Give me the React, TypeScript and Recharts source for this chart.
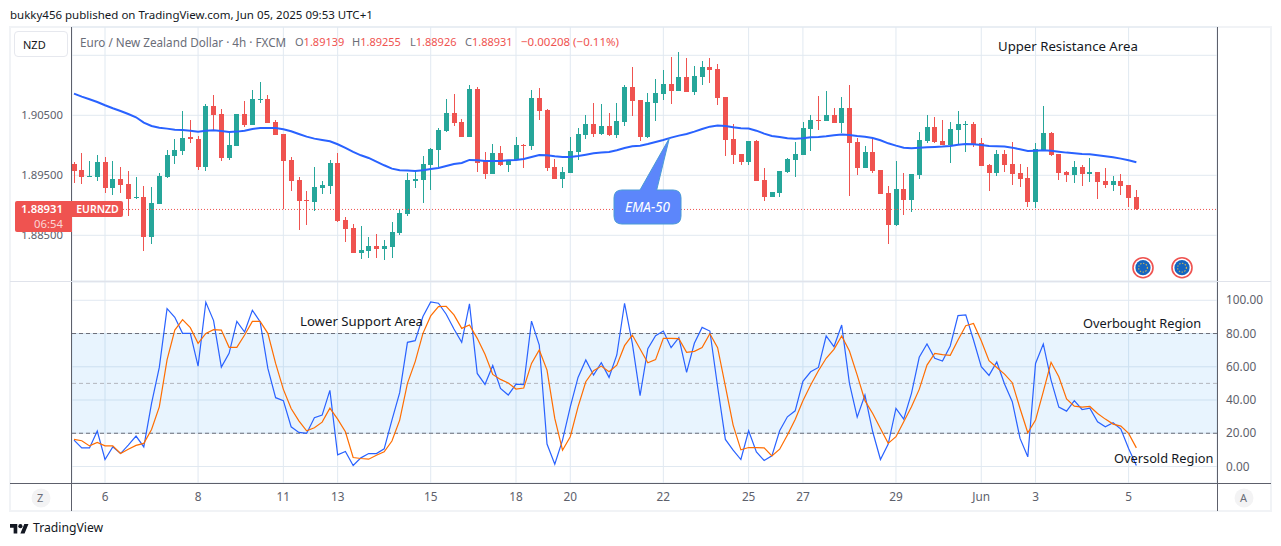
import { ComposedChart, Bar, Line, XAxis, YAxis, CartesianGrid, ReferenceLine, ReferenceArea } from 'recharts'

const opens = [1.89689,1.89589,1.89478,1.89478,1.89717,1.89294,1.89439,1.89355,1.89117,1.89139,1.88478,1.89028,1.89472,1.89822,1.89906,1.90133,1.90106,1.89639,1.90656,1.90522,1.89789,1.89989,1.90522,1.90339,1.90761,1.90772,1.90389,1.90189,1.89756,1.89422,1.89089,1.89055,1.89289,1.89322,1.89705,1.88755,1.88622,1.88205,1.88239,1.88322,1.88272,1.88305,1.88539,1.88855,1.89405,1.89422,1.89672,1.89922,1.90239,1.90539,1.90389,1.90139,1.90939,1.89739,1.89522,1.89872,1.89672,1.89756,1.90006,1.89989,1.90789,1.90589,1.89639,1.89439,1.89539,1.89889,1.90172,1.90356,1.90189,1.90322,1.90172,1.90389,1.90972,1.90756,1.90139,1.90706,1.90856,1.91022,1.90906,1.91139,1.90889,1.91139,1.91306,1.91272,1.90806,1.90106,1.89856,1.89722,1.90072,1.89422,1.89139,1.89205,1.89555,1.89756,1.89839,1.90272,1.90422,1.90406,1.90506,1.90372,1.90622,1.90056,1.89622,1.89889,1.89589,1.89205,1.88672,1.89272,1.89089,1.89506,1.90072,1.90306,1.90072,1.90006,1.90256,1.90339,1.90356,1.90039,1.89672,1.89539,1.89856,1.89689,1.89539,1.89455,1.89055,1.89922,1.90206,1.89856,1.89556,1.89505,1.89639,1.89522,1.89556,1.89405,1.89339,1.89405,1.89339,1.89139]
const highs = [1.89717,1.89867,1.89739,1.89839,1.898,1.89739,1.89633,1.89567,1.89472,1.89322,1.89305,1.89539,1.89922,1.90106,1.90572,1.90422,1.90156,1.90689,1.90839,1.90606,1.90206,1.90522,1.90739,1.90922,1.91056,1.90839,1.90422,1.90189,1.89806,1.89472,1.89239,1.89639,1.89405,1.89756,1.89872,1.88805,1.88689,1.88655,1.88472,1.88522,1.88422,1.88722,1.88939,1.89539,1.89555,1.89822,1.89956,1.90289,1.90772,1.90856,1.90439,1.91006,1.90972,1.89889,1.90022,1.89989,1.89756,1.90139,1.90022,1.90922,1.90956,1.90606,1.89772,1.89639,1.90139,1.90289,1.90506,1.90706,1.90689,1.90539,1.90706,1.91006,1.91306,1.90756,1.90872,1.91106,1.91256,1.91472,1.91556,1.91456,1.91322,1.91406,1.91456,1.91356,1.90806,1.90356,1.89856,1.90072,1.90089,1.89622,1.89222,1.89572,1.89789,1.90056,1.90389,1.90506,1.90822,1.90906,1.90622,1.90806,1.91006,1.90122,1.89989,1.90139,1.89589,1.89322,1.89739,1.89539,1.89522,1.90222,1.90506,1.90472,1.90422,1.90389,1.90572,1.90406,1.90389,1.90122,1.89689,1.89922,1.89922,1.90056,1.89689,1.89639,1.90039,1.90656,1.90222,1.89856,1.89572,1.89739,1.89672,1.89789,1.89556,1.89622,1.89489,1.89522,1.89339,1.89255]
const lows = [1.89378,1.89355,1.89472,1.89405,1.89211,1.89172,1.892,1.88822,1.891,1.88244,1.88355,1.89028,1.89461,1.89689,1.89839,1.90044,1.89589,1.89572,1.90256,1.89739,1.89756,1.89989,1.90306,1.90339,1.90706,1.90372,1.90172,1.88933,1.89239,1.88589,1.88672,1.88905,1.89189,1.89189,1.88722,1.88389,1.88205,1.88105,1.88122,1.88122,1.88089,1.88122,1.88505,1.88822,1.89289,1.89039,1.89255,1.89633,1.90222,1.90322,1.90139,1.90139,1.89555,1.89439,1.89522,1.89655,1.89555,1.89756,1.89622,1.89922,1.90422,1.89572,1.89439,1.89289,1.89539,1.89756,1.90106,1.90139,1.90172,1.90156,1.90122,1.90322,1.90489,1.90072,1.90122,1.90406,1.90756,1.90689,1.90906,1.90889,1.90839,1.91006,1.91039,1.90672,1.89822,1.89689,1.89672,1.89672,1.89405,1.89072,1.89139,1.89139,1.89539,1.89472,1.89839,1.89906,1.90256,1.90406,1.90372,1.90206,1.89156,1.89506,1.89622,1.89539,1.89189,1.88355,1.88655,1.88839,1.88889,1.89439,1.90039,1.90039,1.90006,1.89706,1.90006,1.89889,1.89972,1.89656,1.89239,1.89489,1.89555,1.89339,1.89305,1.88972,1.88955,1.89922,1.89822,1.89422,1.89389,1.89372,1.89322,1.89389,1.89105,1.89289,1.89239,1.89172,1.88972,1.88926]
const closes = [1.89578,1.89478,1.89489,1.89717,1.89294,1.89439,1.89344,1.89105,1.89139,1.88478,1.89039,1.89489,1.89839,1.89922,1.90122,1.90111,1.89639,1.90656,1.90506,1.89789,1.90006,1.90522,1.90339,1.90772,1.90772,1.90372,1.90172,1.89739,1.89405,1.89072,1.89072,1.89305,1.89339,1.89705,1.88739,1.88605,1.88205,1.88255,1.88322,1.88272,1.88322,1.88555,1.88872,1.89422,1.89439,1.89689,1.89939,1.90256,1.90539,1.90372,1.90139,1.90939,1.89705,1.89522,1.89872,1.89672,1.89756,1.90006,1.89994,1.90789,1.90572,1.89622,1.89439,1.89555,1.89906,1.90189,1.90356,1.90189,1.90322,1.90172,1.90406,1.90972,1.90739,1.90139,1.90722,1.90872,1.91022,1.90906,1.91139,1.90889,1.91156,1.91306,1.91256,1.90789,1.90089,1.89839,1.89722,1.90072,1.89405,1.89139,1.89222,1.89572,1.89772,1.89856,1.90289,1.90422,1.90411,1.90506,1.90372,1.90622,1.90039,1.89622,1.89889,1.89572,1.89189,1.88672,1.89272,1.89089,1.89522,1.90089,1.90306,1.90056,1.90006,1.90272,1.90356,1.90356,1.90022,1.89656,1.89539,1.89856,1.89672,1.89522,1.89439,1.89055,1.89939,1.90206,1.89839,1.89539,1.89505,1.89639,1.89522,1.89556,1.89389,1.89339,1.89405,1.89322,1.89122,1.88931]
const ema50 = [1.90861,1.90811,1.90767,1.90722,1.90667,1.90617,1.90572,1.90522,1.90467,1.90378,1.90322,1.90294,1.90278,1.90261,1.90256,1.90244,1.90228,1.90244,1.9025,1.90239,1.90222,1.90228,1.90244,1.90272,1.90289,1.90289,1.90289,1.90267,1.90233,1.90189,1.90144,1.90111,1.90089,1.90067,1.90017,1.89956,1.89889,1.89833,1.89789,1.89728,1.89667,1.89611,1.89583,1.89578,1.89572,1.89583,1.89605,1.89622,1.89655,1.89689,1.89706,1.89756,1.8975,1.89739,1.89739,1.89739,1.8975,1.89756,1.89772,1.89806,1.89839,1.89833,1.89817,1.89806,1.89806,1.89822,1.89844,1.89867,1.89878,1.89889,1.89917,1.89956,1.89983,1.89994,1.90022,1.90056,1.90089,1.90128,1.90161,1.90189,1.90228,1.90272,1.90311,1.90328,1.90322,1.903,1.90283,1.90278,1.90244,1.90194,1.90156,1.90139,1.90117,1.90111,1.90117,1.90133,1.90139,1.9015,1.90167,1.90178,1.90172,1.90156,1.90144,1.90122,1.90083,1.90033,1.89994,1.89961,1.8995,1.89961,1.89967,1.89972,1.89978,1.89989,1.90011,1.90022,1.90017,1.90006,1.89989,1.89983,1.89978,1.89961,1.89933,1.89906,1.89911,1.89917,1.89911,1.89894,1.89878,1.89867,1.89856,1.8985,1.89833,1.89817,1.898,1.89778,1.8975,1.89717]
const stochK = [15.9,11.2,11.2,21.3,4.2,11.8,7.8,12.9,18.3,11.8,38,59.6,95,89.8,80.1,80.1,60.4,98.8,87.8,59.8,68.1,87.3,80.9,94,87.1,59,41.4,39.6,23.9,20.5,19.9,29.3,30.9,45.8,7,9,0.6,5.2,7.8,7.8,10.6,27.9,44.4,74.7,75.7,90.2,99,98.2,91.6,82.7,74.7,97.8,56,49.4,60.8,47,43,49.6,49.2,87.5,73.1,13.5,1.4,15.9,35.9,53.6,64.1,55,62.4,53.6,67.1,98.2,74.1,42.6,70.9,78.7,81.5,71.5,77.5,56.6,74.1,83.7,81.5,48,16.3,9.8,4.2,21.5,8.8,3.6,6.4,21.5,29.9,33.5,51.2,57,59.6,78.5,72.1,85.1,50,29.7,43,20.9,4.2,13.5,34.9,28.5,44,65.7,73.7,65.1,63.5,72.5,90.8,91.2,76.1,60,54.8,62.9,49.6,39,16.9,5.8,62,73.7,52,35.7,33.3,39.6,34.3,35.1,26.9,23.9,26.3,22.5,10.8,0.6]
const stochD = [16.3,15.5,12.4,14.5,12.4,12.4,7.8,10.4,12.7,13.9,22.3,35.9,64.1,82.1,88.4,83.5,74.1,80.1,82.3,82.1,71.7,71.7,79.1,87.3,87.3,80.1,62,46.4,34.9,27.5,21.5,23.3,26.7,35.1,28.5,20.9,5.4,4.8,4.4,6.8,8.8,15.3,27.9,50,63.1,80.1,90.6,96.2,96.4,91.2,83.1,85.1,77.1,67.5,55.4,52.4,50.2,46.6,47.2,62,70.1,58,28.9,9.8,17.9,35.9,51,57.6,60.4,57,61,72.7,79.1,70.7,62.4,64.3,77.1,77.1,76.9,68.7,69.3,71.5,79.9,71.5,48.4,24.9,10,11.4,11.4,11.2,6.4,10.4,18.9,28.3,39.6,49,57.6,65.1,70.5,78.5,69.5,55,39.6,31.9,22.9,13.9,17.9,26.9,35.9,46.4,61,68.1,67.3,66.9,76.1,84.7,86.1,75.7,63.7,59.6,55.6,50.4,34.9,20.3,27.9,45,62.7,54,40.6,36.3,35.7,36.1,31.9,28.5,25.5,24.3,19.9,11.2]

const dayTicks = [4, 16, 27, 34, 46, 57, 64, 76, 87, 94, 106, 117, 124, 136]
const dayLabels = ['6', '8', '11', '13', '15', '18', '20', '22', '25', '27', '29', 'Jun', '3', '5']
const priceTicks = [1.885, 1.895, 1.905, 1.915]
const stochTicks = [0, 20, 40, 60, 80, 100]
const lastPrice = 1.88931

const UP = '#26a69a'
const DOWN = '#ef5350'
const GRID = '#e1e9f1'
const AXIS_TEXT = '#5d606b'
const FONT = '"Noto Sans", sans-serif'
const X_DOMAIN: [number, number] = [-0.258, 147.4]

const rows = closes.map((close, i) => ({
  i,
  open: opens[i],
  high: highs[i],
  low: lows[i],
  close,
  ema: ema50[i],
  k: stochK[i],
  d: stochD[i],
}))

function Candle(props: any) {
  const { x, y, width, height, payload } = props
  const { open, high, low, close } = payload
  const perUnit = height / (high - low)
  const cx = Math.round(x + width / 2)
  const top = y + (high - Math.max(open, close)) * perUnit
  const bottom = y + (high - Math.min(open, close)) * perUnit
  const color = close >= open ? UP : DOWN
  return (
    <g shapeRendering="crispEdges">
      <rect x={cx} y={y} width={1} height={height} fill={color} />
      <rect x={cx - 2} y={top} width={5} height={Math.max(bottom - top, 1)} fill={color} />
    </g>
  )
}

function Note({ x, y, size = 13.2, color = '#131722', children, style }: any) {
  return (
    <div style={{ position: 'absolute', left: x, top: y, fontSize: size, lineHeight: '16px', color, whiteSpace: 'nowrap', ...style }}>
      {children}
    </div>
  )
}

function FlagIcon({ cx, cy }: { cx: number; cy: number }) {
  return (
    <g>
      <circle cx={cx} cy={cy} r={10} fill="#fff" stroke="#ef5350" strokeWidth={1.6} />
      <circle cx={cx} cy={cy} r={7.6} fill="#1565c0" />
      <circle cx={cx} cy={cy} r={4.4} fill="none" stroke="#c9b458" strokeWidth={1.2} strokeDasharray="1.3 1.6" />
    </g>
  )
}

export default function App() {
  return (
    <div style={{ position: 'absolute', left: 0, top: 0, width: 1281, height: 546, background: '#fff', fontFamily: FONT, overflow: 'hidden' }}>
      <div style={{ position: 'absolute', left: 9, top: 26, width: 1259, height: 482, border: '2px solid #f1f3f6' }} />

      <div style={{ position: 'absolute', left: 0, top: 0 }}>
        <ComposedChart width={1281} height={283} data={rows} margin={{ top: 27, right: 64, bottom: 2, left: 10 }}>
          <CartesianGrid stroke={GRID} />
          <XAxis dataKey="i" type="number" domain={X_DOMAIN} ticks={dayTicks} hide allowDataOverflow />
          <YAxis
            width={62}
            domain={[1.877383, 1.919717]}
            ticks={priceTicks}
            allowDataOverflow
            axisLine={false}
            tickLine={false}
            tickMargin={3}
            tick={{ fontSize: 11.3, fill: AXIS_TEXT, fontFamily: FONT }}
            tickFormatter={(v: number) => (v === 1.915 ? '' : v.toFixed(5))}
          />
          <ReferenceLine y={lastPrice} stroke={DOWN} strokeDasharray="1 2" />
          <Bar dataKey={(d: any) => [d.low, d.high]} barSize={5} shape={<Candle />} isAnimationActive={false} />
          <Line dataKey="ema" stroke="#2962ff" strokeWidth={2} dot={false} isAnimationActive={false} />
        </ComposedChart>
      </div>

      <div style={{ position: 'absolute', left: 0, top: 281 }}>
        <ComposedChart width={1281} height={232} data={rows} margin={{ top: 1, right: 0, bottom: 0, left: 72 }}>
          <CartesianGrid stroke={GRID} />
          <XAxis
            dataKey="i"
            type="number"
            domain={X_DOMAIN}
            ticks={dayTicks}
            height={30}
            allowDataOverflow
            axisLine={false}
            tickLine={false}
            tickMargin={4}
            tick={{ fontSize: 11.8, fill: AXIS_TEXT, fontFamily: FONT }}
            tickFormatter={(v: number) => dayLabels[dayTicks.indexOf(v)]}
          />
          <YAxis
            orientation="right"
            width={64}
            domain={[-9.93, 111]}
            ticks={stochTicks}
            allowDataOverflow
            axisLine={false}
            tickLine={false}
            tickMargin={3}
            tick={{ fontSize: 11.8, fill: AXIS_TEXT, fontFamily: FONT }}
            tickFormatter={(v: number) => v.toFixed(2)}
          />
          <ReferenceArea y1={20} y2={80} fill="#2196f3" fillOpacity={0.1} stroke="none" />
          <ReferenceLine y={80} stroke="#6a6d78" strokeDasharray="4 3" />
          <ReferenceLine y={50} stroke="#b2b5be" strokeDasharray="4 3" />
          <ReferenceLine y={20} stroke="#6a6d78" strokeDasharray="4 3" />
          <Line dataKey="k" stroke="#2962ff" strokeWidth={1.2} dot={false} isAnimationActive={false} />
          <Line dataKey="d" stroke="#ff6d00" strokeWidth={1.2} dot={false} isAnimationActive={false} />
        </ComposedChart>
      </div>

      {/* pane frame */}
      <div style={{ position: 'absolute', left: 71, top: 27, width: 1, height: 484, background: '#5d606b' }} />
      <div style={{ position: 'absolute', left: 1217, top: 27, width: 1, height: 484, background: '#5d606b' }} />
      <div style={{ position: 'absolute', left: 10, top: 483, width: 1261, height: 1, background: '#5d606b' }} />
      <div style={{ position: 'absolute', left: 10, top: 281, width: 1261, height: 1, background: '#e0e3eb' }} />

      {/* header */}
      <Note x={10} y={7} size={11.5}>bukky456 published on TradingView.com, Jun 05, 2025 09:53 UTC+1</Note>
      <div style={{ position: 'absolute', left: 14, top: 31, width: 54, height: 26, boxSizing: 'border-box', border: '1px solid #e6e8ee', borderRadius: 4, fontSize: 11, lineHeight: '25px', paddingLeft: 8, color: '#131722', background: '#fff' }}>NZD</div>
      <Note x={80} y={34} size={11.7} color="#6a6d78">Euro / New Zealand Dollar · 4h · FXCM</Note>
      <Note x={295} y={34} size={11} color="#6a6d78">O<span style={{ color: DOWN }}>1.89139</span></Note>
      <Note x={352} y={34} size={11} color="#6a6d78">H<span style={{ color: DOWN }}>1.89255</span></Note>
      <Note x={410} y={34} size={11} color="#6a6d78">L<span style={{ color: DOWN }}>1.88926</span></Note>
      <Note x={465} y={34} size={11} color="#6a6d78">C<span style={{ color: DOWN }}>1.88931</span></Note>
      <Note x={521} y={34} size={11.5} color={DOWN}>−0.00208 (−0.11%)</Note>

      {/* last price tags */}
      <div style={{ position: 'absolute', left: 15, top: 201, width: 57, height: 31, background: DOWN, borderRadius: '2px 0 0 2px', color: '#fff', fontSize: 11.3, fontWeight: 600, textAlign: 'right', paddingRight: 9, boxSizing: 'border-box', lineHeight: '15px' }}>
        <div>1.88931</div>
        <div style={{ color: '#fbd5d4', fontWeight: 400 }}>06:54</div>
      </div>
      <div style={{ position: 'absolute', left: 72, top: 201, width: 51, height: 16, background: DOWN, borderRadius: '0 2px 2px 0', color: '#fff', fontSize: 10.5, fontWeight: 600, textAlign: 'center', lineHeight: '16px' }}>EURNZD</div>

      {/* drawings */}
      <svg width={1281} height={546} style={{ position: 'absolute', left: 0, top: 0, pointerEvents: 'none' }}>
        <path
          d="M622 190 H640 L669.3 138.3 L656.7 190 H673 Q681 190 681 198 V216 Q681 224 673 224 H622 Q614 224 614 216 V198 Q614 190 622 190 Z"
          fill="#5c86fb"
          stroke="#4a9bd6"
          strokeWidth={1}
        />
        <FlagIcon cx={1143} cy={267.7} />
        <FlagIcon cx={1182} cy={267.7} />
        <circle cx={41} cy={498} r={9.5} fill="#f3f3f4" />
        <circle cx={1244} cy={498} r={9.5} fill="#f3f3f4" />
        <g transform="translate(10 522) scale(0.52)" fill="#131722">
          <path d="M14 22H7V11H0V4h14v18zM28 22h-8l7.5-18h8L28 22z" />
          <circle cx={20} cy={8} r={4} />
        </g>
      </svg>
      <Note x={620} y={199} size={13.5} color="#fff" style={{ fontStyle: 'italic', width: 55, textAlign: 'center' }}>EMA-50</Note>
      <Note x={37} y={490} size={11} color="#6a6d78">Z</Note>
      <Note x={1240} y={490} size={11} color="#6a6d78">A</Note>
      <Note x={33} y={520} size={12.2} color="#131722">TradingView</Note>

      <Note x={998} y={38}>Upper Resistance Area</Note>
      <Note x={300} y={313}>Lower Support Area</Note>
      <Note x={1083} y={315} size={12.8}>Overbought Region</Note>
      <Note x={1114} y={450} size={12.8}>Oversold Region</Note>
    </div>
  )
}
